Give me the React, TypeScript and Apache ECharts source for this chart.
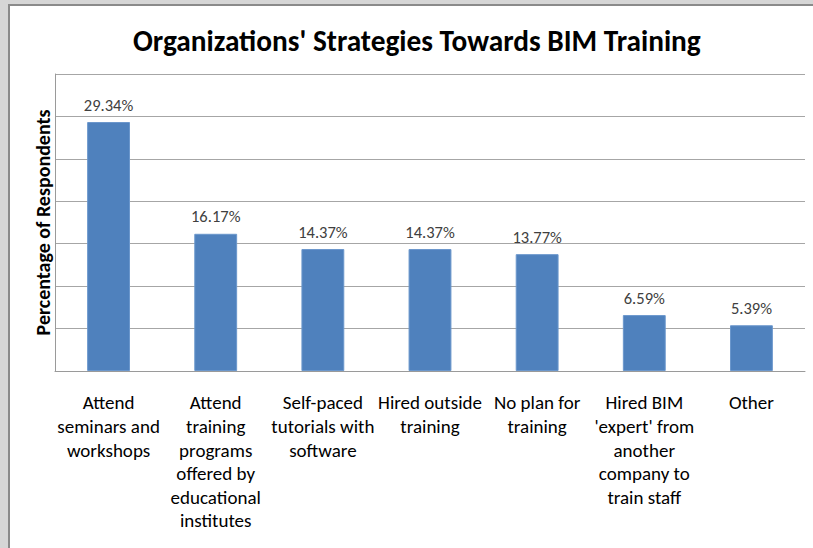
import React, { useEffect, useRef } from "react";
import * as echarts from "echarts";

const categories = [
  "Attend\nseminars and\nworkshops",
  "Attend\ntraining\nprograms\noffered by\neducational\ninstitutes",
  "Self-paced\ntutorials with\nsoftware",
  "Hired outside\ntraining",
  "No plan for\ntraining",
  "Hired BIM\n'expert' from\nanother\ncompany to\ntrain staff",
  "Other",
];
const values = [29.34, 16.17, 14.37, 14.37, 13.77, 6.59, 5.39];
const titleText = "Organizations' Strategies Towards BIM Training";
const yAxisTitle = "Percentage of Respondents";

const FONT = "Carlito, Calibri, Lato, 'Open Sans', sans-serif";

export default function App() {
  const ref = useRef<HTMLDivElement>(null);
  useEffect(() => {
    if (!ref.current) return;
    const chart = echarts.init(ref.current, undefined, { renderer: "svg" });
    chart.setOption({
      animation: false,
      title: {
        text: titleText,
        left: 128,
        top: 21,
        textStyle: { fontFamily: FONT, fontSize: 29.3, fontWeight: "bold", color: "#000" },
      },
      grid: { left: 55, right: 8, top: 74, bottom: 177 },
      xAxis: {
        type: "category",
        data: categories,
        axisLine: { show: true, lineStyle: { color: "#9a9a9a", width: 1 } },
        axisTick: { show: false },
        axisLabel: {
          interval: 0,
          margin: 20,
          fontFamily: FONT,
          fontSize: 19,
          lineHeight: 23.6,
          color: "#000",
          align: "center",
        },
      },
      yAxis: {
        type: "value",
        min: 0,
        max: 35,
        interval: 5,
        name: yAxisTitle,
        nameLocation: "middle",
        nameGap: 2,
        nameTextStyle: { fontFamily: FONT, fontSize: 20, fontWeight: "bold", color: "#000" },
        axisLine: { show: true, lineStyle: { color: "#9a9a9a", width: 1 } },
        axisTick: { show: false },
        axisLabel: { show: false },
        splitLine: { show: true, lineStyle: { color: "#a6a6a6", width: 1 } },
      },
      series: [
        {
          type: "bar",
          data: values,
          barWidth: "40%",
          itemStyle: { color: "#4f81bd", borderColor: "#6b97cc", borderWidth: 1 },
          label: {
            show: true,
            position: "top",
            distance: 9,
            formatter: (p: any) => p.value.toFixed(2) + "%",
            fontFamily: FONT,
            fontSize: 16.5,
            color: "#404040",
          },
        },
      ],
    });
    return () => chart.dispose();
  }, []);
  return (
    <div style={{ position: "fixed", left: 0, top: 0, width: 813, height: 548, background: "#d6d6d6" }}>
      <div
        style={{
          position: "absolute",
          left: 8,
          top: 4,
          width: 805,
          height: 544,
          background: "#fff",
          borderLeft: "2px solid #8a8a8a",
          borderTop: "2px solid #8a8a8a",
          boxSizing: "border-box",
        }}
      />
      <div ref={ref} style={{ position: "absolute", left: 0, top: 0, width: 813, height: 548 }} />
    </div>
  );
}
